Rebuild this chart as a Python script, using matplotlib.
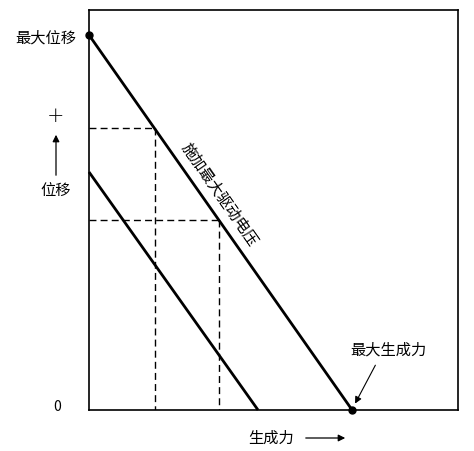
import matplotlib.pyplot as plt
import matplotlib

matplotlib.rcParams['font.family'] = ['Noto Sans CJK SC', 'DejaVu Sans']

# line end points (x: force, y: displacement), axis range 0..100
max_line_x = [0, 71.3]
max_line_y = [93.75, 0]
low_line_x = [0, 45.8]
low_line_y = [59.5, 0]
# dashed guide points on the max-voltage line
guide_x = [17.9, 35.2]
guide_y = [70.5, 47.5]

fig = plt.figure(figsize=[4.74, 4.51], dpi=100)
ax = fig.add_axes([0.1878, 0.0909, 0.7785, 0.8869])
ax.set_xlim(0, 100)
ax.set_ylim(0, 100)
ax.set_xticks([])
ax.set_yticks([])
for s in ax.spines.values():
    s.set_linewidth(1.2)

ax.plot(max_line_x, max_line_y, color='black', lw=2, solid_capstyle='butt', clip_on=False)
ax.plot(low_line_x, low_line_y, color='black', lw=2, solid_capstyle='butt', clip_on=False)
ax.plot([max_line_x[0], max_line_x[1]], [max_line_y[0], max_line_y[1]], 'o',
        color='black', ms=5, clip_on=False)

for gx, gy in zip(guide_x, guide_y):
    ax.plot([0, gx], [gy, gy], color='black', lw=1, ls=(0, (5, 3)))
    ax.plot([gx, gx], [gy, 0], color='black', lw=1, ls=(0, (5, 3)))

ax.text(35.5, 53.8, '施加最大驱动电压', rotation=-55, fontsize=11,
        ha='center', va='center', rotation_mode='anchor')

ax.text(81, 15, '最大生成力', fontsize=11, ha='center', va='center')
ax.annotate('', xy=(72.1, 1.6), xytext=(77.6, 11.2),
            arrowprops=dict(arrowstyle='-|>', color='black', lw=0.8,
                            shrinkA=0, shrinkB=0, mutation_scale=10))

# outside labels (figure pixel coords)
def fx(px):
    return px / 474

def fy(py):
    return 1 - py / 451

fig.text(fx(76), fy(38), '最大位移', fontsize=11, ha='right', va='center')
fig.text(fx(56), fy(116), '+', fontsize=15, ha='center', va='center',
         family='DejaVu Sans', fontweight='light')
fig.text(fx(56), fy(190), '位移', fontsize=11, ha='center', va='center')
fig.text(fx(57), fy(407), '0', fontsize=10, ha='center', va='center')
fig.text(fx(271), fy(438), '生成力', fontsize=11, ha='center', va='center')

fig.add_artist(matplotlib.patches.FancyArrowPatch(
    (fx(56), fy(178)), (fx(56), fy(132)), transform=fig.transFigure,
    arrowstyle='-|>', mutation_scale=10, color='black', lw=0.9))
fig.add_artist(matplotlib.patches.FancyArrowPatch(
    (fx(303), fy(438)), (fx(348), fy(438)), transform=fig.transFigure,
    arrowstyle='-|>', mutation_scale=10, color='black', lw=0.9))

fig.savefig('out.png', dpi=100)
